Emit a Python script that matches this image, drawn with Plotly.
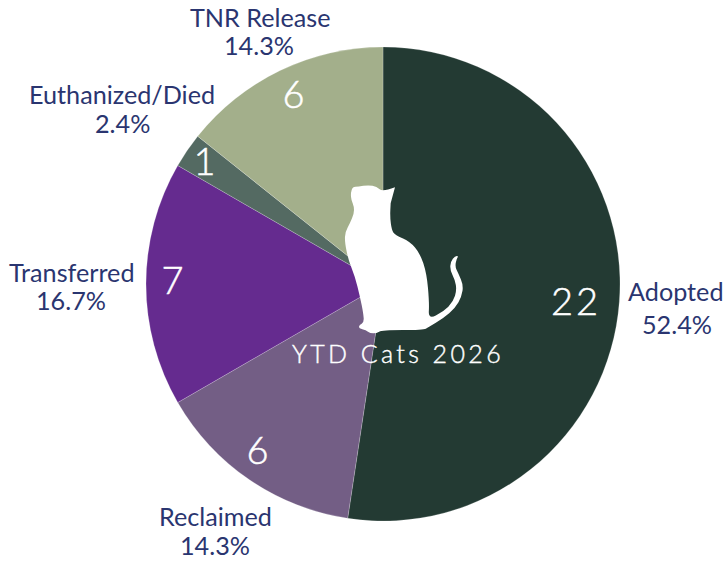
import plotly.graph_objects as go

categories = ["Adopted", "Reclaimed", "Transferred", "Euthanized/Died", "TNR Release"]
counts = [22, 6, 7, 1, 6]
colors = ["#233A33", "#735E85", "#652B8F", "#546A62", "#A3AF8B"]
W, H = 725, 561

# pixel centres of the text, layout only
value_pos = [(576,300),(259,449),(174,279),(206,160),(295,93)]
name_pos = [(676,291),(216,516),(71,272),(122,94),(260,17)]
pct_pos = [(677,324),(215,545),(71,300),(122,123),(259,45)]

cat_zoom_outline = [(345,52),(308,66),(290,50),(265,45),(235,50),(218,50),(212,70),(214,90),(222,110),(222,130),
 (210,160),(196,185),(194,215),(205,270),(225,320),(240,380),(250,430),(252,458),(238,465),(236,475),(258,480),
 (270,490),(290,490),(305,480),(430,480),(445,472),(490,445),(525,415),(545,380),(550,345),(535,310),(525,290),
 (530,265),(536,258),(525,258),(512,275),(510,300),(525,330),(530,360),(520,395),(490,425),(445,448),(448,400),
 (440,310),(420,250),(390,215),(345,195),(335,180),(330,140),(332,100)]

def p(pt):
    return f"{(280+pt[0]/3)/W:.5f},{1-(170+pt[1]/3)/H:.5f}"

def mid(a, b):
    return ((a[0]+b[0])/2, (a[1]+b[1])/2)

pts = cat_zoom_outline
cat_path = "M" + p(pts[0])
for i in range(1, len(pts)-1):
    cat_path += " Q" + p(pts[i]) + " " + p(mid(pts[i], pts[i+1]))
cat_path += " L" + p(pts[-1]) + " Z"

domain = dict(x=[146/W, 620/W], y=[1-521/H, 1-47/H])
font = "Lato, Carlito, 'Open Sans', sans-serif"
label_font = dict(family=font, size=25.2, color="#2A3570")
value_font = dict(family=font, size=38, color="white", weight=300)

def ann(text, pos, f):
    return dict(text=text, x=pos[0]/W, y=1-pos[1]/H, xref="paper", yref="paper", showarrow=False,
                xanchor="center", yanchor="middle", font=f)

total = sum(counts)
annotations = []
for i, c in enumerate(categories):
    annotations.append(ann(c, name_pos[i], label_font))
    annotations.append(ann(f"{counts[i]/total*100:.1f}%", pct_pos[i], label_font))
    annotations.append(ann(str(counts[i]), value_pos[i], value_font))
annotations.append(ann("YTD Cats 2026", (398,353), dict(family=font, size=25, color="white", weight=300)))

fig = go.Figure()
fig.add_trace(go.Pie(labels=categories, values=counts, sort=False, direction="clockwise", rotation=0,
    domain=domain, marker=dict(colors=colors, line=dict(width=0.5, color="rgba(255,255,255,0.4)")),
    textinfo="none", automargin=False, showlegend=False, hoverinfo="label+value+percent"))
fig.update_layout(width=W, height=H, margin=dict(l=0, r=0, t=0, b=0), paper_bgcolor="white",
    shapes=[dict(type="path", xref="paper", yref="paper", path=cat_path, fillcolor="white", line=dict(width=0), layer="above")],
    annotations=annotations)
fig.write_html("out.html", config=dict(displayModeBar=False), post_script="""
document.body.style.margin='0';
document.querySelectorAll('.annotation-text').forEach(t=>{
  var s=t.textContent;
  if(s==='YTD Cats 2026'){t.style.letterSpacing='3.4px';t.style.stroke='white';t.style.strokeWidth='0.4px';}
  else if(/^[0-9]+$/.test(s)){t.style.letterSpacing='3px';t.style.stroke='white';t.style.strokeWidth='0.5px';}
});
""")
